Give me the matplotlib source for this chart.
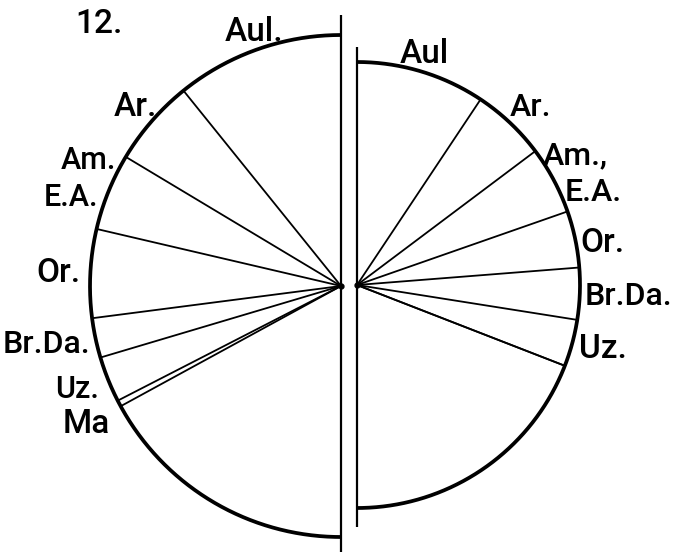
import numpy as np
import matplotlib
matplotlib.use("Agg")
import matplotlib.pyplot as plt

# ---------------- data (percent of each half circle) ----------------
categories = ["Aul", "Ar", "Am_EA", "Or", "BrDa", "Uz", "Ma", "rest"]
left_labels = ["Aul.", "Ar.", "Am.\nE.A.", "Or.", "Br.Da.", "Uz.", "Ma", ""]
right_labels = ["Aul", "Ar.", "Am.,\nE.A.", "Or.", "Br.Da.", "Uz.", "", ""]
left_shares = [21.6, 11.2, 9.9, 11.4, 5.1, 5.9, 0.8, 34.1]
right_shares = [18.7, 10.8, 9.8, 8.2, 7.5, 6.8, 0.0, 38.2]
figure_number = "12."

# ---------------- layout ----------------
W, H = 681, 552
FONT = ["Roboto", "DejaVu Sans"]
FS = 24
WEIGHT = "medium"
CAP_RATIO = 0.711

left_geom = dict(cx=341, cy=286, r=251, side=-1, top_ext=20, bot_ext=30)
right_geom = dict(cx=357, cy=285, r=223, side=1, top_ext=15, bot_ext=19)

# per-label nudges: (dy of label centre from arc mid-point, gap from arc, fontsize)
left_layout = [None, (-17, 11, 24), (-15, 9, 22), (-3, 10, 24), (4, 6, 23),
               (8, 12, 22), (18, 20, 24), None]
right_layout = [None, (-18, 21, 23), (-8.5, 6, 23), (1, 5, 24), (0, 5, 23),
                (3, 8, 24), None, None]
LINE_SP = 37

fig = plt.figure(figsize=(W / 100, H / 100), dpi=100)
ax = fig.add_axes([0, 0, 1, 1])
ax.set_xlim(0, W)
ax.set_ylim(H, 0)
ax.set_aspect("equal")
ax.axis("off")


def point(g, deg, rr=None):
    rr = g["r"] if rr is None else rr
    t = np.radians(deg)
    return g["cx"] + g["side"] * rr * np.sin(t), g["cy"] - rr * np.cos(t)


def arc_x_at(g, y):
    dy = y - g["cy"]
    return g["cx"] + g["side"] * np.sqrt(max(g["r"] ** 2 - dy ** 2, 0))


def draw_half(g, shares, labels, layout):
    # vertical diameter line
    ax.plot([g["cx"], g["cx"]], [g["cy"] - g["r"] - g["top_ext"], g["cy"] + g["r"] + g["bot_ext"]],
            color="black", lw=1.6, solid_capstyle="butt")
    # arc
    th = np.linspace(0, 180, 400)
    xs, ys = point(g, th)
    ax.plot(xs, ys, color="black", lw=2.7, solid_capstyle="butt")
    # radial lines
    bounds = np.cumsum(shares) / 100 * 180
    for b in bounds[:-1]:
        x1, y1 = point(g, b)
        ax.plot([g["cx"], x1], [g["cy"], y1], color="black", lw=1.3)
    ax.plot([g["cx"]], [g["cy"]], "o", color="black", ms=3.5)
    # labels
    starts = np.concatenate([[0], bounds[:-1]])
    for i, lab in enumerate(labels):
        if not lab or shares[i] <= 0:
            continue
        mid = (starts[i] + bounds[i]) / 2
        if layout[i] is None:  # top label, centred above the arc
            x, y = point(g, mid, g["r"] + 9)
            ax.text(x, y, lab, ha="center", va="baseline", fontsize=FS,
                    family=FONT, fontweight=WEIGHT, color="black")
            continue
        dy, gap, fs = layout[i]
        _, ymid = point(g, mid)
        lines = lab.split("\n")
        n = len(lines)
        cap = fs * 100 / 72 * CAP_RATIO
        for k, ln in enumerate(lines):
            yc = ymid + dy + (k - (n - 1) / 2) * LINE_SP
            xa = arc_x_at(g, yc) + g["side"] * gap
            ax.text(xa, yc + cap / 2, ln, ha="right" if g["side"] < 0 else "left",
                    va="baseline", fontsize=fs, family=FONT, fontweight=WEIGHT,
                    color="black")


draw_half(left_geom, left_shares, left_labels, left_layout)
draw_half(right_geom, right_shares, right_labels, right_layout)

ax.text(75, 33, figure_number, ha="left", va="baseline", fontsize=FS, family=FONT,
        fontweight=WEIGHT, color="black")

fig.savefig("out.png", dpi=100, facecolor="white")
